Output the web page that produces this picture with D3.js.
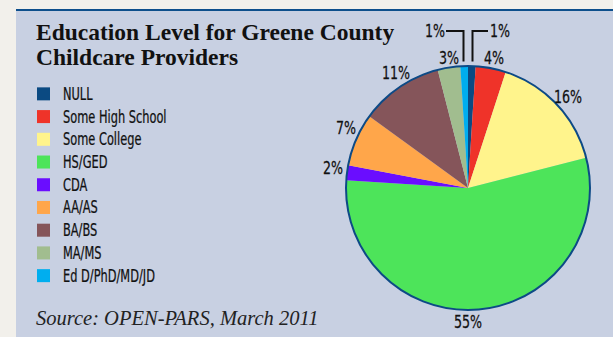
<!DOCTYPE html>
<html><head><meta charset="utf-8">
<script src="https://cdn.jsdelivr.net/npm/d3@7"></script>
<style>
html,body{margin:0;padding:0;background:#f2f0eb;}
svg{display:block;}
</style></head>
<body>
<script>
const categories = ["NULL","Some High School","Some College","HS/GED","CDA","AA/AS","BA/BS","MA/MS","Ed D/PhD/MD/JD"];
const values = [1,4,16,55,2,7,11,3,1];
const colors = ["#0b4a82","#ef3329","#fff48c","#4de45a","#6a0dff","#ffa64a","#85555a","#a1bd8f","#00aeef"];
const title = ["Education Level for Greene County","Childcare Providers"];
const source = "Source: OPEN-PARS, March 2011";

const W = 613, H = 337;
const svg = d3.select("body").append("svg").attr("width", W).attr("height", H);
svg.append("rect").attr("x",16).attr("y",9).attr("width",W-16).attr("height",H-9).attr("fill","#c8d0e2");
svg.append("rect").attr("x",16).attr("y",9).attr("width",W-16).attr("height",2).attr("fill","#0d4f8c");

svg.selectAll("text.title").data(title).enter().append("text")
  .attr("x",36).attr("y",(d,i)=>40+i*25)
  .attr("font-family","'Liberation Serif','Times New Roman',serif")
  .attr("font-weight","bold").attr("font-size",23.5).attr("fill","#111")
  .text(d=>d);

const condFont = "'Liberation Sans Narrow','DejaVu Sans Condensed',sans-serif";
function condText(parent, x, y, str, anchor, size, sx) {
  parent.append("g").attr("transform",`translate(${x},${y}) scale(${sx},1)`)
    .append("text").attr("text-anchor",anchor||"start")
    .attr("font-family",condFont).attr("font-size",size).attr("fill","#111")
    .attr("stroke","#111").attr("stroke-width",0.25).text(str);
}

const ly = d3.scaleBand().domain(categories).range([82.5,287]);
const lg = svg.append("g");
categories.forEach((c,i)=>{
  const y = ly(c) + ly.bandwidth()/2;
  lg.append("rect").attr("x",37).attr("y",y-6.5).attr("width",13).attr("height",13).attr("fill",colors[i]);
  condText(lg, 63, y+6, c, "start", 17, 0.745);
});

svg.append("text").attr("x",36).attr("y",325)
  .attr("font-family","'Liberation Serif','Times New Roman',serif")
  .attr("font-style","italic").attr("font-size",20.5).attr("fill","#222").text(source);

const cx = 468, cy = 188, r = 122;
const pie = d3.pie().sort(null).value(d=>d)(values);
const arc = d3.arc().innerRadius(0).outerRadius(r);
const g = svg.append("g").attr("transform",`translate(${cx},${cy})`);
g.selectAll("path").data(pie).enter().append("path")
  .attr("d",arc).attr("fill",(d,i)=>colors[i]);
g.append("circle").attr("r",r).attr("fill","none").attr("stroke","#0d4a86").attr("stroke-width",2);

// labels
const labelArc = d3.arc().innerRadius(r+12).outerRadius(r+12);
const lblG = svg.append("g").attr("transform",`translate(${cx},${cy})`);
pie.forEach((d,i)=>{
  let x, y, anchor="middle";
  if (i===0) { x = 22; y = -151; anchor="start"; }
  else if (i===8) { x = -23; y = -151; anchor="end"; }
  else {
    const c = labelArc.centroid(d);
    x = c[0]; y = c[1] + 6;
    if (i===1) { x = 26; y = -124; }
    if (i===7) { x = -19; y = -124; }
    if (i===3) { x = 0; y = 140; }
    if (i===6) { x = -72; y = -109; }
    if (i===2) { x = 100; y = -85; }
    if (i===5) { x = -122; y = -54; }
    if (i===4) { x = -135; y = -14; }
  }
  condText(lblG, x, y, d3.format(".0f")(d.data)+"%", anchor, 18, 0.78);
});
// leader lines for the two 1% slices
const line = d3.line();
lblG.append("path").attr("d",line([[20,-157],[4.5,-157],[4.5,-126.5]])).attr("fill","none").attr("stroke","#111").attr("stroke-width",2);
lblG.append("path").attr("d",line([[-22,-157],[-4.5,-157],[-4.5,-126.5]])).attr("fill","none").attr("stroke","#111").attr("stroke-width",2);
</script>
</body></html>
